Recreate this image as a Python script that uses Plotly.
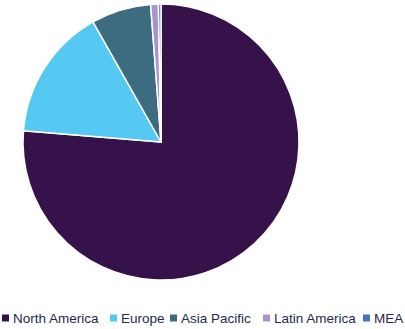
import plotly.graph_objects as go

regions = ["North America", "Europe", "Asia Pacific", "Latin America", "MEA"]
shares = [76.3, 15.5, 7.0, 0.9, 0.3]
colors = ["#35124a", "#55c9f2", "#3d6b80", "#a893cf", "#4472c4"]

W, H = 405, 329
fig = go.Figure(go.Pie(
    labels=regions, values=shares, sort=False, direction="clockwise", rotation=0,
    marker=dict(colors=colors, line=dict(color="white", width=1.5)),
    textinfo="none", hoverinfo="label+percent", showlegend=False,
    domain=dict(x=[23 / W, 299 / W], y=[(H - 280) / H, (H - 4) / H]),
))

# custom compact legend (plotly's built-in legend cannot fit on one row)
legend_left = [2, 110, 170, 263, 363]
legend_cy = 318
sq = 7
for name, col, lx in zip(regions, colors, legend_left):
    fig.add_shape(type="rect", xref="paper", yref="paper",
                  x0=lx / W, x1=(lx + sq) / W,
                  y0=(H - legend_cy - sq / 2) / H, y1=(H - legend_cy + sq / 2) / H,
                  fillcolor=col, line=dict(width=0))
    fig.add_annotation(xref="paper", yref="paper", x=(lx + sq + 2) / W,
                       y=(H - legend_cy) / H, xanchor="left", yanchor="middle",
                       text=name, showarrow=False,
                       font=dict(family="Liberation Sans, Arial, sans-serif",
                                 size=13.5, color="#1f2a4d"))

fig.update_layout(
    width=W, height=H, margin=dict(l=0, r=0, t=0, b=0),
    paper_bgcolor="white", plot_bgcolor="white",
)
fig.write_html("out.html")
